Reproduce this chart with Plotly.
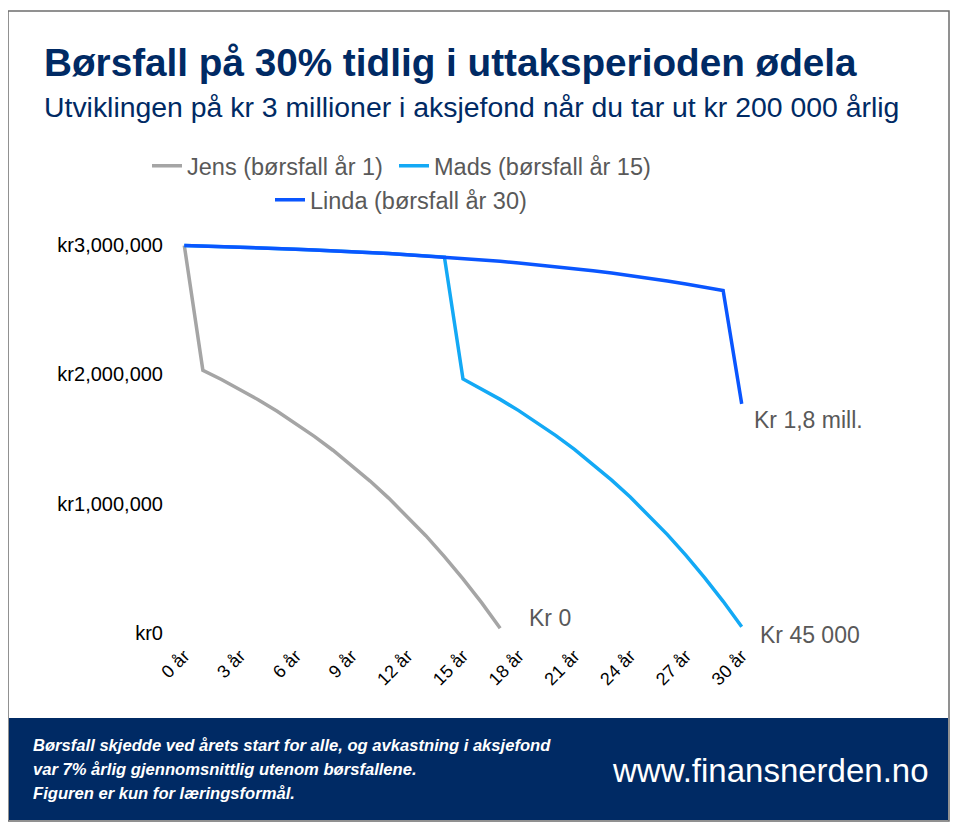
import plotly.graph_objects as go

# --- data (kr, year 0..N) ---
years_jens = list(range(0, 18))
jens = [3000000, 2033000, 1961000, 1885000, 1803000, 1715000, 1621000, 1520000,
        1413000, 1297000, 1174000, 1042000, 901000, 751000, 589000, 416000,
        232000, 34000]

years_mads = list(range(0, 31))
mads = [3000000, 2996000, 2992000, 2987000, 2982000, 2977000, 2971000, 2965000,
        2959000, 2952000, 2945000, 2937000, 2928000, 2919000, 2910000, 1965000,
        1889000, 1807000, 1720000, 1626000, 1526000, 1419000, 1304000, 1181000,
        1050000, 909000, 759000, 598000, 426000, 242000, 45000]

years_linda = list(range(0, 31))
linda = [3000000, 2996000, 2992000, 2987000, 2982000, 2977000, 2971000, 2965000,
         2959000, 2952000, 2945000, 2937000, 2928000, 2919000, 2910000, 2899000,
         2888000, 2877000, 2864000, 2850000, 2836000, 2821000, 2804000, 2786000,
         2767000, 2747000, 2725000, 2702000, 2677000, 2651000, 1772000]

series_names = ["Jens (børsfall år 1)", "Mads (børsfall år 15)", "Linda (børsfall år 30)"]
series_colors = ["#a5a5a5", "#13a9f5", "#0a56ff"]

x_tickvals = list(range(0, 31, 3))
x_ticktext = [f"{v} år" for v in x_tickvals]
y_tickvals = [0, 1000000, 2000000, 3000000]
y_ticktext = [f"kr{v:,}" for v in y_tickvals]

end_labels = ["Kr 0", "Kr 45 000", "Kr 1,8 mill."]

footer_lines = [
    "Børsfall skjedde ved årets start for alle, og avkastning i aksjefond",
    "var 7% årlig gjennomsnittlig utenom børsfallene.",
    "Figuren er kun for læringsformål.",
]

# --- page geometry (pixels, as seen in the screenshot) ---
W, H = 960, 834
OFF = 8  # page body margin
L, R, T, B = 167, 217, 231, 203
NAVY = "#002a64"
GREY_TXT = "#595959"


def px(x):
    return (x - OFF - L) / (W - L - R)


def py(y):
    return (H - B - (y - OFF)) / (H - T - B)


fig = go.Figure()
for xs, ys, name, color, leg in [
    (years_jens, jens, series_names[0], series_colors[0], "legend"),
    (years_mads, mads, series_names[1], series_colors[1], "legend2"),
    (years_linda, linda, series_names[2], series_colors[2], "legend3"),
]:
    fig.add_trace(go.Scatter(x=xs, y=ys, name=name, mode="lines",
                             line=dict(color=color, width=3.5), legend=leg))

# end-of-line labels
ann = [
    dict(x=years_jens[-1], y=jens[-1], text=end_labels[0], xshift=27, yshift=10),
    dict(x=years_mads[-1], y=mads[-1], text=end_labels[1], xshift=16, yshift=-8),
    dict(x=years_linda[-1], y=linda[-1], text=end_labels[2], xshift=10, yshift=-16),
]
for a in ann:
    fig.add_annotation(xref="x", yref="y", showarrow=False, xanchor="left",
                       font=dict(size=23, color=GREY_TXT), **a)

# title + subtitle
fig.add_annotation(xref="paper", yref="paper", x=px(42), y=py(62), xanchor="left",
                   yanchor="middle", showarrow=False,
                   text="<b>Børsfall på 30% tidlig i uttaksperioden ødela</b>",
                   font=dict(size=38.7, color=NAVY))
fig.add_annotation(xref="paper", yref="paper", x=px(42), y=py(107), xanchor="left",
                   yanchor="middle", showarrow=False,
                   text="Utviklingen på kr 3 millioner i aksjefond når du tar ut kr 200 000 årlig",
                   font=dict(size=28.4, color=NAVY))

# footer
fig.add_shape(type="rect", xref="paper", yref="paper", x0=px(9), x1=px(948),
              y0=py(820), y1=py(718), fillcolor=NAVY, line=dict(width=0), layer="below")
for i, line in enumerate(footer_lines):
    fig.add_annotation(xref="paper", yref="paper", x=px(31), y=py(745 + 24 * i),
                       xanchor="left", yanchor="middle", showarrow=False,
                       text=f"<b><i>{line}</i></b>",
                       font=dict(size=16.6, color="white"))
fig.add_annotation(xref="paper", yref="paper", x=px(931), y=py(770), xanchor="right",
                   yanchor="middle", showarrow=False, text="www.finansnerden.no",
                   font=dict(size=33, color="white"))

# outer frame
fig.add_shape(type="rect", xref="paper", yref="paper", x0=px(8), x1=px(949),
              y0=py(821), y1=py(11), line=dict(color="#6e6e6e", width=1.5),
              fillcolor="rgba(0,0,0,0)", layer="below")

legend_style = dict(orientation="h", xanchor="left", yanchor="top",
                    font=dict(size=23.5, color=GREY_TXT), itemwidth=30,
                    bgcolor="rgba(0,0,0,0)")

fig.update_layout(
    width=W, height=H,
    margin=dict(l=L, r=R, t=T, b=B, autoexpand=False),
    paper_bgcolor="white",
    plot_bgcolor="white",
    font=dict(family="Liberation Sans, Arial", size=16, color="black"),
    showlegend=True,
    legend=dict(x=px(147), y=py(144), **legend_style),
    legend2=dict(x=px(394), y=py(144), **legend_style),
    legend3=dict(x=px(270), y=py(178), **legend_style),
    xaxis=dict(range=[-0.5, 30.5], tickvals=x_tickvals, ticktext=x_ticktext,
               tickangle=-45, showgrid=False, zeroline=False, showline=False,
               ticks="", tickfont=dict(size=18), ticklabelstandoff=2),
    yaxis=dict(range=[-50000, 3050000], tickvals=y_tickvals, ticktext=y_ticktext,
               showgrid=False, zeroline=False, showline=False,
               ticks="", tickfont=dict(size=20), ticklabelstandoff=11),
)

fig.write_html("out.html")
